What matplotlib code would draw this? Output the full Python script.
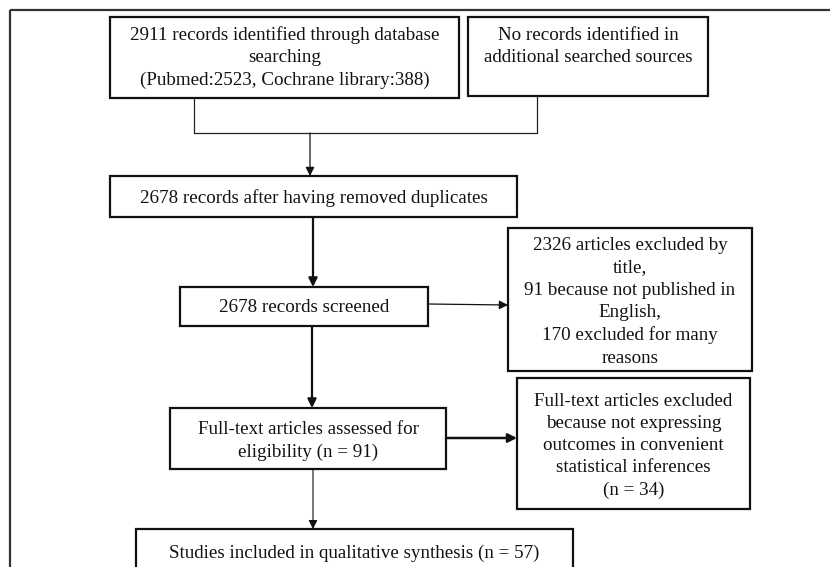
import matplotlib as mpl
mpl.use("Agg")
import matplotlib.pyplot as plt
from matplotlib.patches import Rectangle

plt.rcParams["font.family"] = ["Liberation Serif", "DejaVu Serif"]

# box texts
box_texts = [
    "2911 records identified through database\nsearching\n(Pubmed:2523, Cochrane library:388)",
    "No records identified in\nadditional searched sources",
    "2678 records after having removed duplicates",
    "2678 records screened",
    "2326 articles excluded by\ntitle,\n91 because not published in\nEnglish,\n170 excluded for many\nreasons",
    "Full-text articles assessed for\neligibility (n = 91)",
    "Full-text articles excluded\nbecause not expressing\noutcomes in convenient\nstatistical inferences\n(n = 34)",
    "Studies included in qualitative synthesis (n = 57)",
]
# box extents in pixels: left, top, right, bottom
box_xy = [
    (110, 17, 459, 98),
    (468, 17, 708, 96),
    (110, 176, 517, 217),
    (180, 287, 428, 326),
    (508, 228, 752, 371),
    (170, 408, 446, 469),
    (517, 378, 750, 509),
    (136, 529, 573, 600),
]
# text centre (pixels) inside each box
text_y = [57.5, 46.5, 198, 307, 302, 441, 446, 553]

W, H = 830, 567
fig = plt.figure(figsize=(W / 100, H / 100), dpi=100)
ax = fig.add_axes([0, 0, 1, 1])
ax.set_xlim(0, W)
ax.set_ylim(H, 0)
ax.axis("off")

# outer frame
ax.add_patch(Rectangle((10, 10), 900, 700, fill=False, lw=1.6, ec="#333333"))

for (l, t, r, b), txt, ty in zip(box_xy, box_texts, text_y):
    ax.add_patch(Rectangle((l, t), r - l, b - t, fill=True, fc="white", lw=1.6, ec="#111111"))
    ax.text((l + r) / 2, ty, txt, ha="center", va="center", fontsize=13.7,
            linespacing=1.4, color="#111111")

# connector from the two source boxes
ax.plot([194, 194, 537, 537], [98, 133, 133, 96], color="#222222", lw=0.9)


def arrow(x0, y0, x1, y1, lw):
    ax.annotate("", xy=(x1, y1), xytext=(x0, y0),
                arrowprops=dict(arrowstyle="-|>", lw=lw, color="#111111",
                                shrinkA=0, shrinkB=0, mutation_scale=13))


arrow(310, 133, 310, 176, 0.9)
arrow(313, 217, 313, 287, 1.6)
arrow(428, 304, 508, 305, 0.9)
arrow(312, 326, 312, 408, 1.6)
arrow(446, 438, 517, 438, 1.8)
arrow(313, 469, 313, 529, 0.8)

fig.savefig("out.png", dpi=100)
